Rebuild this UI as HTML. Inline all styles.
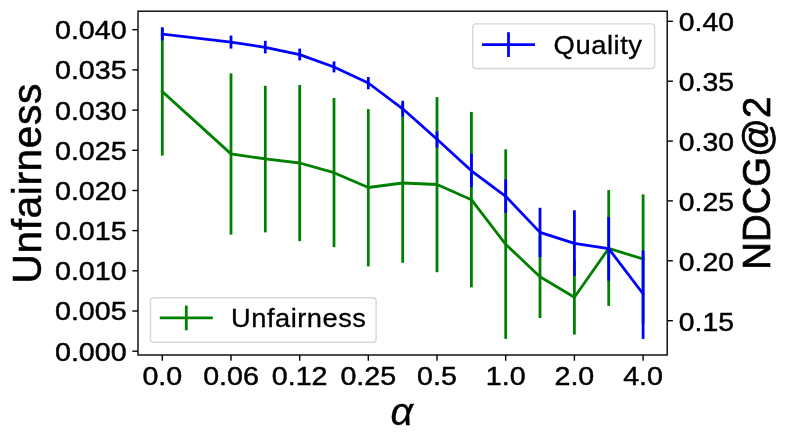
<!DOCTYPE html>
<html><head><meta charset="utf-8"><title>chart</title>
<style>html,body{margin:0;padding:0;background:#fff;overflow:hidden}</style>
</head><body>
<svg width="789" height="445" viewBox="0 0 789 445" style="will-change:transform;display:block;font-family:'Liberation Sans',sans-serif">
<rect width="789" height="445" fill="#fff"/>
<g stroke="#008000" stroke-width="2.78" fill="none">
<polyline points="162.3,91.6 231.0,153.9 265.3,158.9 299.7,163.0 334.0,172.7 368.3,187.5 402.7,183.0 437.0,184.5 471.4,199.7 505.7,244.3 540.0,276.8 574.4,297.3 608.7,248.4 643.1,259.0" stroke-linejoin="round" stroke-linecap="square"/>
<line x1="162.3" x2="162.3" y1="27.6" y2="155.6"/>
<line x1="231.0" x2="231.0" y1="73.4" y2="234.6"/>
<line x1="265.3" x2="265.3" y1="85.8" y2="232.4"/>
<line x1="299.7" x2="299.7" y1="85.0" y2="241.2"/>
<line x1="334.0" x2="334.0" y1="98.0" y2="247.2"/>
<line x1="368.3" x2="368.3" y1="109.1" y2="266.4"/>
<line x1="402.7" x2="402.7" y1="103.2" y2="262.8"/>
<line x1="437.0" x2="437.0" y1="97.1" y2="272.2"/>
<line x1="471.4" x2="471.4" y1="111.9" y2="287.4"/>
<line x1="505.7" x2="505.7" y1="149.4" y2="338.9"/>
<line x1="540.0" x2="540.0" y1="235.5" y2="318.1"/>
<line x1="574.4" x2="574.4" y1="260.0" y2="334.6"/>
<line x1="608.7" x2="608.7" y1="190.1" y2="305.9"/>
<line x1="643.1" x2="643.1" y1="194.4" y2="323.6"/>
</g>
<g stroke="#0000ff" stroke-width="2.78" fill="none">
<polyline points="162.3,34.1 231.0,42.2 265.3,47.3 299.7,54.6 334.0,67.0 368.3,83.0 402.7,108.8 437.0,139.2 471.4,170.8 505.7,196.3 540.0,232.4 574.4,243.3 608.7,248.6 643.1,293.9" stroke-linejoin="round" stroke-linecap="square"/>
<line x1="162.3" x2="162.3" y1="27.4" y2="40.4"/>
<line x1="231.0" x2="231.0" y1="35.6" y2="48.6"/>
<line x1="265.3" x2="265.3" y1="40.8" y2="53.4"/>
<line x1="299.7" x2="299.7" y1="48.6" y2="60.4"/>
<line x1="334.0" x2="334.0" y1="61.4" y2="72.4"/>
<line x1="368.3" x2="368.3" y1="77.0" y2="89.3"/>
<line x1="402.7" x2="402.7" y1="100.8" y2="116.6"/>
<line x1="437.0" x2="437.0" y1="131.4" y2="147.6"/>
<line x1="471.4" x2="471.4" y1="153.6" y2="187.2"/>
<line x1="505.7" x2="505.7" y1="179.4" y2="212.8"/>
<line x1="540.0" x2="540.0" y1="207.8" y2="257.2"/>
<line x1="574.4" x2="574.4" y1="210.3" y2="275.8"/>
<line x1="608.7" x2="608.7" y1="217.0" y2="280.6"/>
<line x1="643.1" x2="643.1" y1="250.4" y2="338.9"/>
</g>
<rect x="138.0" y="11.2" width="529.2" height="343.8" fill="none" stroke="#000" stroke-width="1.39"/>
<g stroke="#000" stroke-width="1.39">
<line x1="132.3" x2="138.0" y1="29.7" y2="29.7"/>
<line x1="132.3" x2="138.0" y1="69.9" y2="69.9"/>
<line x1="132.3" x2="138.0" y1="110.1" y2="110.1"/>
<line x1="132.3" x2="138.0" y1="150.3" y2="150.3"/>
<line x1="132.3" x2="138.0" y1="190.5" y2="190.5"/>
<line x1="132.3" x2="138.0" y1="230.6" y2="230.6"/>
<line x1="132.3" x2="138.0" y1="270.8" y2="270.8"/>
<line x1="132.3" x2="138.0" y1="311.0" y2="311.0"/>
<line x1="132.3" x2="138.0" y1="351.2" y2="351.2"/>
<line x1="667.2" x2="672.9" y1="21.3" y2="21.3"/>
<line x1="667.2" x2="672.9" y1="81.2" y2="81.2"/>
<line x1="667.2" x2="672.9" y1="141.1" y2="141.1"/>
<line x1="667.2" x2="672.9" y1="200.9" y2="200.9"/>
<line x1="667.2" x2="672.9" y1="260.8" y2="260.8"/>
<line x1="667.2" x2="672.9" y1="320.7" y2="320.7"/>
<line x1="162.3" x2="162.3" y1="355.0" y2="360.7"/>
<line x1="231.0" x2="231.0" y1="355.0" y2="360.7"/>
<line x1="299.7" x2="299.7" y1="355.0" y2="360.7"/>
<line x1="368.3" x2="368.3" y1="355.0" y2="360.7"/>
<line x1="437.0" x2="437.0" y1="355.0" y2="360.7"/>
<line x1="505.7" x2="505.7" y1="355.0" y2="360.7"/>
<line x1="574.4" x2="574.4" y1="355.0" y2="360.7"/>
<line x1="643.1" x2="643.1" y1="355.0" y2="360.7"/>
</g>
<text x="126.6" y="39.1" font-size="25.8" text-anchor="end" textLength="71.6" lengthAdjust="spacingAndGlyphs" stroke="#000" stroke-width="0.45">0.040</text>
<text x="126.6" y="79.3" font-size="25.8" text-anchor="end" textLength="71.6" lengthAdjust="spacingAndGlyphs" stroke="#000" stroke-width="0.45">0.035</text>
<text x="126.6" y="119.5" font-size="25.8" text-anchor="end" textLength="71.6" lengthAdjust="spacingAndGlyphs" stroke="#000" stroke-width="0.45">0.030</text>
<text x="126.6" y="159.7" font-size="25.8" text-anchor="end" textLength="71.6" lengthAdjust="spacingAndGlyphs" stroke="#000" stroke-width="0.45">0.025</text>
<text x="126.6" y="199.9" font-size="25.8" text-anchor="end" textLength="71.6" lengthAdjust="spacingAndGlyphs" stroke="#000" stroke-width="0.45">0.020</text>
<text x="126.6" y="240.0" font-size="25.8" text-anchor="end" textLength="71.6" lengthAdjust="spacingAndGlyphs" stroke="#000" stroke-width="0.45">0.015</text>
<text x="126.6" y="280.2" font-size="25.8" text-anchor="end" textLength="71.6" lengthAdjust="spacingAndGlyphs" stroke="#000" stroke-width="0.45">0.010</text>
<text x="126.6" y="320.4" font-size="25.8" text-anchor="end" textLength="71.6" lengthAdjust="spacingAndGlyphs" stroke="#000" stroke-width="0.45">0.005</text>
<text x="126.6" y="360.6" font-size="25.8" text-anchor="end" textLength="71.6" lengthAdjust="spacingAndGlyphs" stroke="#000" stroke-width="0.45">0.000</text>
<text x="678.8" y="31.1" font-size="25.8" text-anchor="start" textLength="55.1" lengthAdjust="spacingAndGlyphs" stroke="#000" stroke-width="0.45">0.40</text>
<text x="678.8" y="91.0" font-size="25.8" text-anchor="start" textLength="55.1" lengthAdjust="spacingAndGlyphs" stroke="#000" stroke-width="0.45">0.35</text>
<text x="678.8" y="150.9" font-size="25.8" text-anchor="start" textLength="55.1" lengthAdjust="spacingAndGlyphs" stroke="#000" stroke-width="0.45">0.30</text>
<text x="678.8" y="210.7" font-size="25.8" text-anchor="start" textLength="55.1" lengthAdjust="spacingAndGlyphs" stroke="#000" stroke-width="0.45">0.25</text>
<text x="678.8" y="270.6" font-size="25.8" text-anchor="start" textLength="55.1" lengthAdjust="spacingAndGlyphs" stroke="#000" stroke-width="0.45">0.20</text>
<text x="678.8" y="330.5" font-size="25.8" text-anchor="start" textLength="55.1" lengthAdjust="spacingAndGlyphs" stroke="#000" stroke-width="0.45">0.15</text>
<text x="162.3" y="385.1" font-size="25.8" text-anchor="middle" textLength="39.8" lengthAdjust="spacingAndGlyphs" stroke="#000" stroke-width="0.45">0.0</text>
<text x="231.0" y="385.1" font-size="25.8" text-anchor="middle" textLength="55.7" lengthAdjust="spacingAndGlyphs" stroke="#000" stroke-width="0.45">0.06</text>
<text x="299.7" y="385.1" font-size="25.8" text-anchor="middle" textLength="55.7" lengthAdjust="spacingAndGlyphs" stroke="#000" stroke-width="0.45">0.12</text>
<text x="368.3" y="385.1" font-size="25.8" text-anchor="middle" textLength="55.7" lengthAdjust="spacingAndGlyphs" stroke="#000" stroke-width="0.45">0.25</text>
<text x="437.0" y="385.1" font-size="25.8" text-anchor="middle" textLength="39.8" lengthAdjust="spacingAndGlyphs" stroke="#000" stroke-width="0.45">0.5</text>
<text x="505.7" y="385.1" font-size="25.8" text-anchor="middle" textLength="39.8" lengthAdjust="spacingAndGlyphs" stroke="#000" stroke-width="0.45">1.0</text>
<text x="574.4" y="385.1" font-size="25.8" text-anchor="middle" textLength="39.8" lengthAdjust="spacingAndGlyphs" stroke="#000" stroke-width="0.45">2.0</text>
<text x="643.1" y="385.1" font-size="25.8" text-anchor="middle" textLength="39.8" lengthAdjust="spacingAndGlyphs" stroke="#000" stroke-width="0.45">4.0</text>
<text transform="translate(40.5,183.3) rotate(-90)" font-size="39.8" text-anchor="middle" textLength="200.5" lengthAdjust="spacingAndGlyphs" stroke="#000" stroke-width="0.55" letter-spacing="0.6">Unfairness</text>
<text transform="translate(769.9,183.2) rotate(-90)" font-size="39.2" text-anchor="middle" textLength="173" lengthAdjust="spacingAndGlyphs" stroke="#000" stroke-width="0.7">NDCG@2</text>
<text x="401.9" y="425" font-size="39.6" font-style="italic" text-anchor="middle" stroke="#000" stroke-width="0.3">α</text>
<rect x="472.8" y="23.9" width="181.8" height="44.6" rx="3.2" fill="#fff" fill-opacity="0.8" stroke="#ccc" stroke-opacity="0.8" stroke-width="1.39"/>
<g stroke="#0000ff" stroke-width="2.78"><line x1="482" x2="535" y1="44.7" y2="44.7"/><line x1="508.5" x2="508.5" y1="32.2" y2="57.0"/></g>
<text x="553.6" y="53.5" font-size="25.8" text-anchor="start" textLength="89.0" lengthAdjust="spacingAndGlyphs" stroke="#000" stroke-width="0.3" letter-spacing="0.5">Quality</text>
<rect x="150.5" y="297.7" width="225.6" height="44.6" rx="3.2" fill="#fff" fill-opacity="0.8" stroke="#ccc" stroke-opacity="0.8" stroke-width="1.39"/>
<g stroke="#008000" stroke-width="2.78"><line x1="159.8" x2="212.8" y1="317.9" y2="317.9"/><line x1="186.3" x2="186.3" y1="305.6" y2="330.3"/></g>
<text x="231.0" y="327.1" font-size="25.8" text-anchor="start" textLength="135.5" lengthAdjust="spacingAndGlyphs" stroke="#000" stroke-width="0.3" letter-spacing="0.5">Unfairness</text>
</svg>
</body></html>
